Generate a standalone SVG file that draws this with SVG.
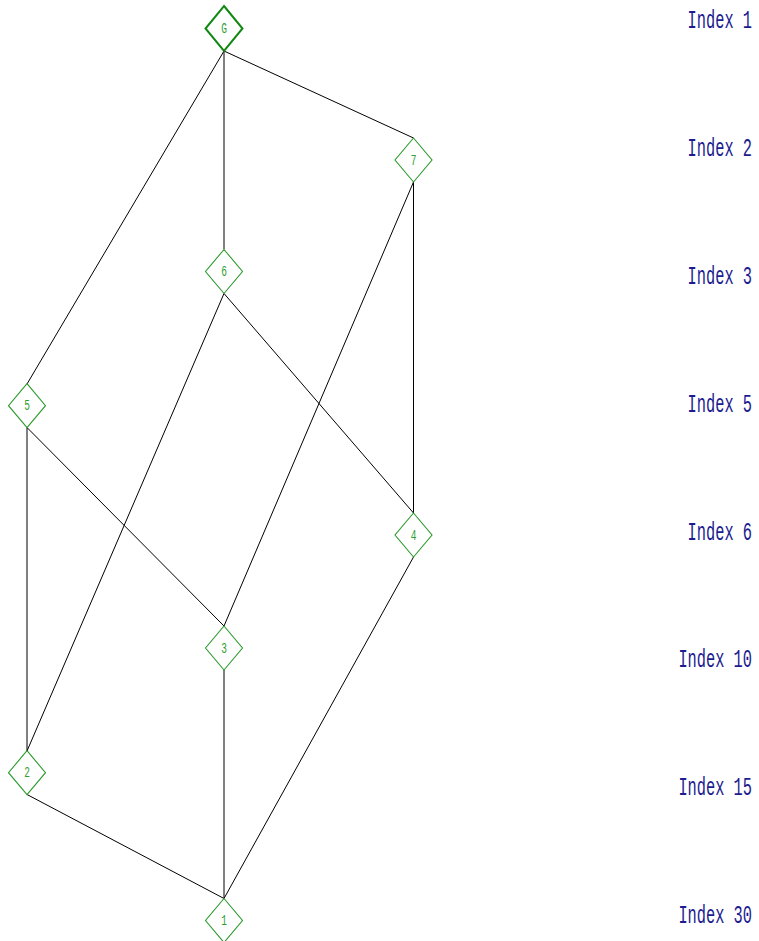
<svg xmlns="http://www.w3.org/2000/svg" width="759" height="941" viewBox="0 0 759 941">
<style>
.bg{fill:#ffffff}
.edge{stroke:#000000;stroke-width:1;fill:none}
.node use,.node path{fill:#ffffff;stroke:#2a9a2a;stroke-width:1.1}
.node text{font-family:"Liberation Mono",monospace;font-size:14px;fill:#2e9e2e;text-anchor:middle}
#nG path{stroke:#118811;stroke-width:2}
.idx{font-family:"Liberation Mono",monospace;font-size:26px;fill:#1c1c90;text-anchor:end}
</style>
<defs>
<path id="dia" d="M0,-22 L18.5,0 L0,22 L-18.5,0 Z"/>
</defs>
<rect class="bg" x="0" y="0" width="759" height="941"/>
<g id="edges">
<line class="edge" x1="224" y1="51" x2="27" y2="384"/>
<line class="edge" x1="224" y1="51" x2="224" y2="249"/>
<line class="edge" x1="224" y1="51" x2="413.5" y2="138"/>
<line class="edge" x1="413.5" y1="182" x2="224" y2="626"/>
<line class="edge" x1="413.5" y1="182" x2="413.5" y2="513"/>
<line class="edge" x1="224" y1="293.5" x2="27" y2="751"/>
<line class="edge" x1="224" y1="293.5" x2="413.5" y2="513"/>
<line class="edge" x1="27" y1="427.5" x2="27" y2="751"/>
<line class="edge" x1="27" y1="427.5" x2="224" y2="626"/>
<line class="edge" x1="413.5" y1="557" x2="224" y2="898.5"/>
<line class="edge" x1="224" y1="670" x2="224" y2="898.5"/>
<line class="edge" x1="27" y1="794.5" x2="224" y2="898.5"/>
</g>
<g id="nG" class="node" transform="translate(224,28.5)"><path d="M0,-22.5 L18.5,0 L0,22.5 L-18.5,0 Z"/><text x="0" y="0" dy="4.5" transform="scale(0.68,1.05)">G</text></g>
<g id="n7" class="node" transform="translate(413.5,160)"><use href="#dia"/><text x="0" y="0" dy="4.5" transform="scale(0.68,1.05)">7</text></g>
<g id="n6" class="node" transform="translate(224,271.5)"><use href="#dia"/><text x="0" y="0" dy="4.5" transform="scale(0.68,1.05)">6</text></g>
<g id="n5" class="node" transform="translate(27,405.7)"><use href="#dia"/><text x="0" y="0" dy="4.5" transform="scale(0.68,1.05)">5</text></g>
<g id="n4" class="node" transform="translate(413.5,535)"><use href="#dia"/><text x="0" y="0" dy="4.5" transform="scale(0.68,1.05)">4</text></g>
<g id="n3" class="node" transform="translate(224,648)"><use href="#dia"/><text x="0" y="0" dy="4.5" transform="scale(0.68,1.05)">3</text></g>
<g id="n2" class="node" transform="translate(27,772.7)"><use href="#dia"/><text x="0" y="0" dy="4.5" transform="scale(0.68,1.05)">2</text></g>
<g id="n1" class="node" transform="translate(224,920.5)"><use href="#dia"/><text x="0" y="0" dy="4.5" transform="scale(0.68,1.05)">1</text></g>
<g id="indices">
<text class="idx" transform="translate(752,28.3) scale(0.59,1)">Index 1</text>
<text class="idx" transform="translate(752,156.1) scale(0.59,1)">Index 2</text>
<text class="idx" transform="translate(752,283.9) scale(0.59,1)">Index 3</text>
<text class="idx" transform="translate(752,411.7) scale(0.59,1)">Index 5</text>
<text class="idx" transform="translate(752,539.5) scale(0.59,1)">Index 6</text>
<text class="idx" transform="translate(752,667.3) scale(0.59,1)">Index 10</text>
<text class="idx" transform="translate(752,795.1) scale(0.59,1)">Index 15</text>
<text class="idx" transform="translate(752,922.9) scale(0.59,1)">Index 30</text>
</g>
</svg>
